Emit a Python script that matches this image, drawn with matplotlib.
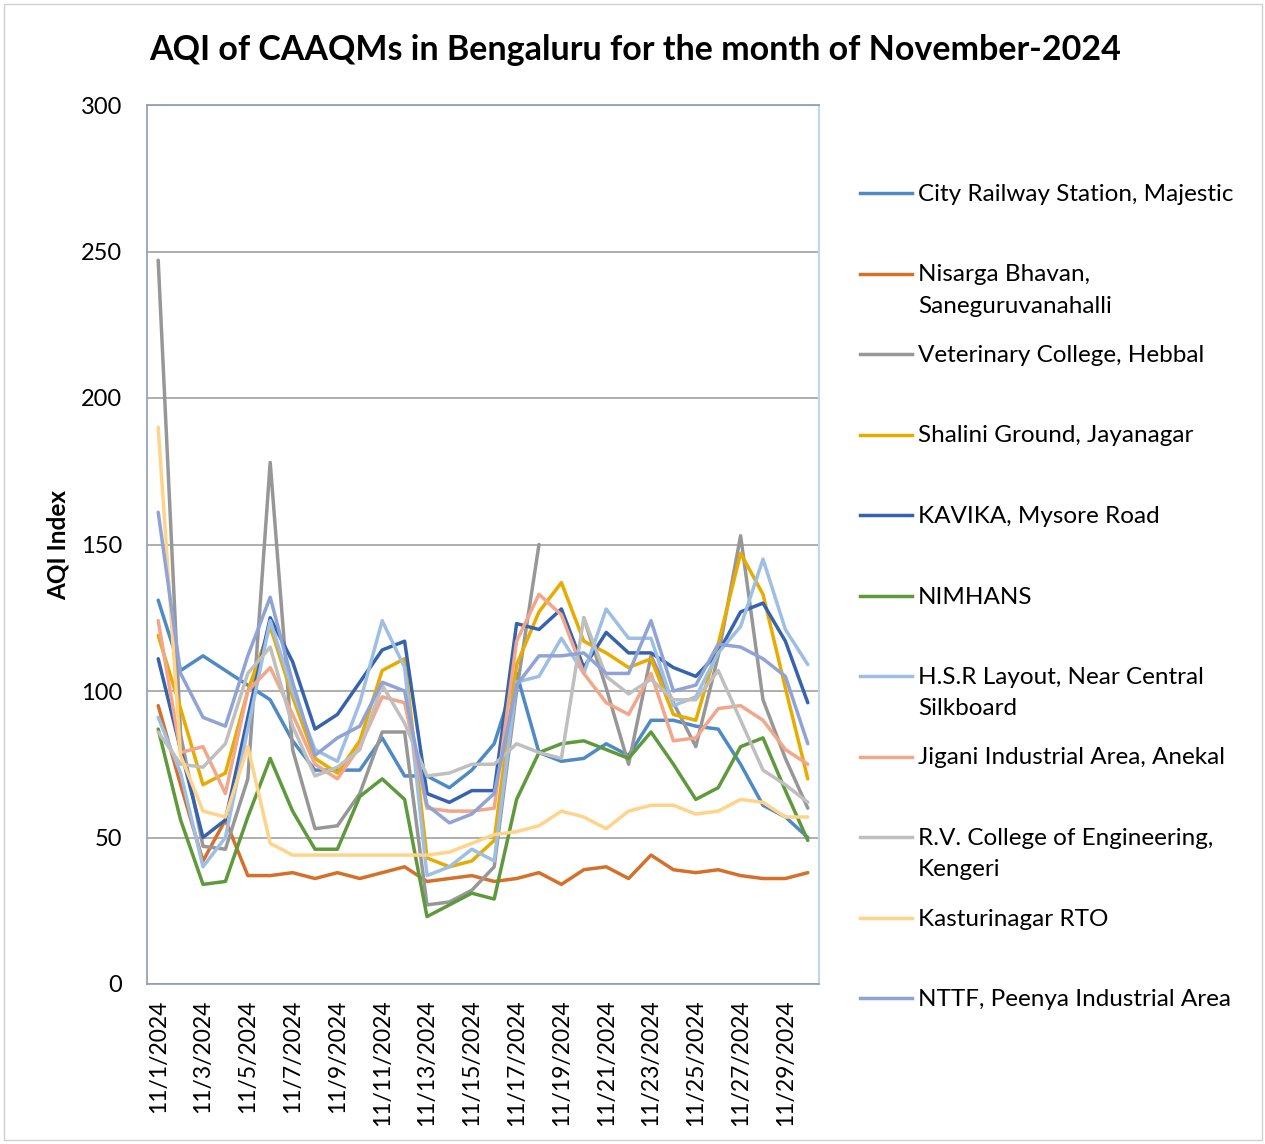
import numpy as np
import matplotlib.pyplot as plt
from matplotlib.lines import Line2D
from matplotlib.patches import Rectangle

plt.rcParams['font.family'] = ['Lato', 'DejaVu Sans']

# days of November 2024
days = np.arange(1, 31)
tick_days = [1, 3, 5, 7, 9, 11, 13, 15, 17, 19, 21, 23, 25, 27, 29]
tick_labels = ['11/1/2024', '11/3/2024', '11/5/2024', '11/7/2024', '11/9/2024',
               '11/11/2024', '11/13/2024', '11/15/2024', '11/17/2024', '11/19/2024',
               '11/21/2024', '11/23/2024', '11/25/2024', '11/27/2024', '11/29/2024']

# AQI per station
city_railway = [131, 107, 112, 107, 102, 97, 83, 73, 73, 73, 84, 71, 71, 67, 73,
                82, 106, 79, 76, 77, 82, 78, 90, 90, 88, 87, 75, 61, 57, 50]
nisarga = [95, 68, 42, 56, 37, 37, 38, 36, 38, 36, 38, 40, 35, 36, 37,
           35, 36, 38, 34, 39, 40, 36, 44, 39, 38, 39, 37, 36, 36, 38]
veterinary = [247, 85, 47, 46, 70, 178, 80, 53, 54, 65, 86, 86, 27, 28, 32,
              40, 100, 150, np.nan, 125, 101, 75, 112, 96, 81, 112, 153, 97, 77, 60]
shalini = [119, 94, 68, 72, 100, 122, 98, 77, 72, 83, 107, 111, 43, 40, 42,
           49, 109, 127, 137, 117, 113, 108, 111, 92, 90, 116, 147, 133, 101, 70]
kavika = [111, 80, 50, 56, 91, 125, 110, 87, 92, 103, 114, 117, 65, 62, 66,
          66, 123, 121, 128, 108, 120, 113, 113, 108, 105, 113, 127, 130, 117, 96]
nimhans = [87, 56, 34, 35, 57, 77, 59, 46, 46, 64, 70, 63, 23, 27, 31,
           29, 63, 79, 82, 83, 80, 77, 86, 75, 63, 67, 81, 84, 66, 49]
hsr = [91, 72, 40, 50, 87, 124, 100, 80, 76, 96, 124, 108, 37, 40, 46,
       42, 103, 105, 118, 106, 128, 118, 118, 95, 98, 113, 122, 145, 121, 109]
jigani = [124, 79, 81, 65, 100, 108, 92, 75, 70, 81, 98, 96, 60, 59, 59,
          60, 117, 133, 126, 106, 96, 92, 106, 83, 84, 94, 95, 90, 80, 75]
rv_college = [86, 75, 74, 82, 106, 115, 88, 71, 74, 80, 102, 89, 71, 72, 75,
              75, 82, 79, 77, 125, 105, 99, 104, 97, 97, 107, 90, 73, 68, 62]
kasturinagar = [190, 78, 59, 57, 81, 48, 44, 44, 44, 44, 44, 44, 44, 45, 48,
                51, 52, 54, 59, 57, 53, 59, 61, 61, 58, 59, 63, 62, 57, 57]
nttf = [161, 106, 91, 88, 112, 132, 103, 78, 84, 88, 103, 100, 61, 55, 58,
        65, 102, 112, 112, 113, 106, 106, 124, 100, 102, 116, 115, 111, 105, 82]

station_names = ['City Railway Station, Majestic',
                 'Nisarga Bhavan,\nSaneguruvanahalli',
                 'Veterinary College, Hebbal',
                 'Shalini Ground, Jayanagar',
                 'KAVIKA, Mysore Road',
                 'NIMHANS',
                 'H.S.R Layout, Near Central\nSilkboard',
                 'Jigani Industrial Area, Anekal',
                 'R.V. College of Engineering,\nKengeri',
                 'Kasturinagar RTO',
                 'NTTF, Peenya Industrial Area']
series = [city_railway, nisarga, veterinary, shalini, kavika, nimhans,
          hsr, jigani, rv_college, kasturinagar, nttf]
colors = ['#4E8AC6', '#D5702B', '#979797', '#E8AB00', '#3763AE', '#5E9A3B',
          '#9DBFE3', '#F2A68A', '#BFBFBF', '#FFD38A', '#8FA3D6']

fig = plt.figure(figsize=(12.65, 11.44), dpi=100)
ax = fig.add_axes([147 / 1265, 1 - 984 / 1144, (819 - 147) / 1265, (984 - 105) / 1144])

for vals, c in zip(series, colors):
    ax.plot(days, vals, color=c, lw=2.5, solid_joinstyle='round', solid_capstyle='round')

ax.set_xlim(0.5, 30.5)
ax.set_ylim(0, 300)
ax.set_yticks(range(0, 301, 50))
ax.set_xticks(tick_days)
ax.set_xticklabels(tick_labels, rotation=90, fontsize=16.5)
ax.tick_params(axis='x', length=0, pad=11)
ax.tick_params(axis='y', length=0, pad=18, labelsize=17)
ax.grid(axis='y', color='#999999', lw=1.1)
ax.set_axisbelow(True)
for side in ['left', 'bottom', 'top']:
    ax.spines[side].set_color('#8C9DB5')
    ax.spines[side].set_linewidth(1.2)
ax.spines['right'].set_color('#BDD7EE')
ax.spines['right'].set_linewidth(1.5)

fig.text(0.502, 1 - 50 / 1144, 'AQI of CAAQMs in Bengaluru for the month of November-2024',
         ha='center', va='center', fontsize=24.5, fontweight='bold')
fig.text(58 / 1265, 1 - 545 / 1144, 'AQI Index', rotation=90, ha='center', va='center',
         fontsize=17.5, fontweight='bold')

# legend drawn by hand so the handle sits on the first text line
for i, (name, c) in enumerate(zip(station_names, colors)):
    y = 1 - (193 + i * 80.5) / 1144
    fig.add_artist(Line2D([860 / 1265, 912 / 1265], [y, y], color=c, lw=2.5,
                          transform=fig.transFigure))
    fig.text(918 / 1265, y + 9 / 1144, name, ha='left', va='top', fontsize=17.5,
             linespacing=1.6)

fig.add_artist(Rectangle((4 / 1265, 4 / 1144), 1258 / 1265, 1136 / 1144, fill=False,
                         edgecolor='#D0D0D0', lw=1, transform=fig.transFigure))

fig.savefig('out.png', dpi=100)
